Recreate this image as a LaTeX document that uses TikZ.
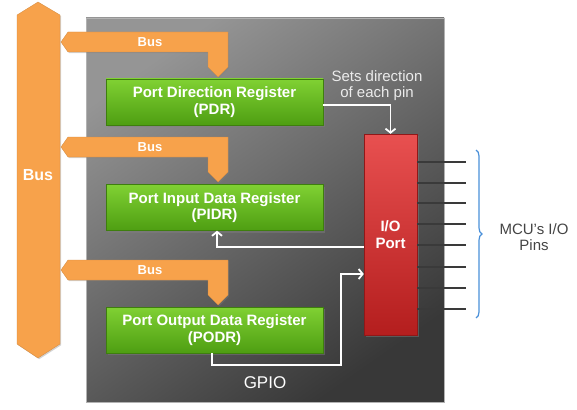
\documentclass[tikz,border=0pt]{standalone}
\usepackage{fontspec}
\setmainfont{Liberation Sans}
\usetikzlibrary{arrows.meta,shadows,decorations.pathreplacing}
\definecolor{busor}{HTML}{F7A24B}
\definecolor{grtop}{HTML}{80D133}
\definecolor{grbot}{HTML}{4E9E12}
\definecolor{rdtop}{HTML}{E85050}
\definecolor{rdbot}{HTML}{B41E1E}
\definecolor{gytop}{HTML}{959595}
\definecolor{gybot}{HTML}{383838}
\definecolor{pincol}{HTML}{3A3A3A}
\definecolor{bracecol}{HTML}{4A90D9}
\definecolor{lbl}{HTML}{444444}
\begin{document}
\begin{tikzpicture}[x=1pt,y=-1pt,
  gpiobox/.style={draw=gray!60, line width=0.8pt, top color=gytop, bottom color=gybot, shading angle=35, inner sep=0pt},
  regbox/.style={top color=grtop, bottom color=grbot, draw=grbot!80!black, line width=0.4pt,
     minimum width=217pt, minimum height=46pt, inner sep=0pt, text=white, align=center,
     font=\bfseries\fontsize{15}{16.5}\selectfont,
     drop shadow={shadow xshift=2pt, shadow yshift=-2pt, opacity=0.45}},
  iobox/.style={top color=rdtop, bottom color=rdbot, draw=rdbot!80!black, line width=0.4pt,
     minimum width=53pt, minimum height=201pt, inner sep=0pt, text=white, align=center,
     font=\bfseries\fontsize{15}{16.5}\selectfont,
     drop shadow={shadow xshift=2pt, shadow yshift=-2pt, opacity=0.45}},
  busshape/.style={fill=busor, draw=busor!85!black, line width=0.3pt,
     drop shadow={shadow xshift=1.2pt, shadow yshift=-1.2pt, opacity=0.35}},
  buslabel/.style={text=white, font=\bfseries\fontsize{13}{15}\selectfont},
  wire/.style={draw=white, line width=1.8pt},
  wirearrow/.style={wire, -{Straight Barb[length=4pt,width=10pt]}},
  pinline/.style={draw=pincol, line width=1.5pt},
  note/.style={align=center, font=\fontsize{15}{16}\selectfont}
]
\useasboundingbox (0,0) rectangle (577,409);

% GPIO block
\node[gpiobox, minimum width=358pt, minimum height=384pt] (gpio) at (265,210) {};
\node[text=white, font=\fontsize{17}{19}\selectfont] (gpiolbl) at (265,383) {GPIO};

% vertical bus
\path[busshape] (38,2) -- (60,15) -- (60,344) -- (38,358) -- (17,344) -- (17,15) -- cycle;
\node[text=white, font=\bfseries\fontsize{16}{18}\selectfont] (busv) at (38,175) {Bus};

% horizontal buses
\foreach \t/\n in {32/busa,137/busb,260/busc}{
  \path[busshape] (61,\t+10) -- (68,\t) -- (228,\t) -- (228,\t+35) -- (218,\t+45)
     -- (208,\t+35) -- (208,\t+20) -- (68,\t+20) -- cycle;
  \node[buslabel] (\n) at (150,\t+10.5) {Bus};
}

% registers
\node[regbox] (pdr) at (214.5,102) {Port Direction Register\\(PDR)};
\node[regbox] (pidr) at (214.5,207.5) {Port Input Data Register\\(PIDR)};
\node[regbox] (podr) at (214.5,330) {Port Output Data Register\\(PODR)};

% I/O port
\node[iobox] (io) at (390.5,234.5) {I/O\\Port};

% pins
\foreach \y in {162,183,203,224,245,267,288,309}{
  \draw[pinline] (io.east |- 0,\y) -- (466,\y);
}

% brace
\coordinate (bt) at (476,150);
\coordinate (bb) at (476,318);
\draw[bracecol, line width=1.2pt, decorate, decoration={brace, amplitude=6pt}] (bt) -- (bb);
\node[note, text=lbl] (mcu) at (534,237) {MCU's I/O\\Pins};

% connectors
\node[note, text=white!92!black] (sets) at (377,86) {Sets direction\\of each pin};
\draw[wirearrow] ([yshift=-3pt]pdr.east) -| (io.north);
\draw[wirearrow] ([yshift=-12.5pt]io.west) -| ([xshift=2.5pt]pidr.south);
\coordinate (bend) at (341,365);
\draw[wirearrow] ([xshift=-2.5pt]podr.south) |- (bend) |- ([yshift=-39.5pt]io.west);
\end{tikzpicture}
\end{document}
